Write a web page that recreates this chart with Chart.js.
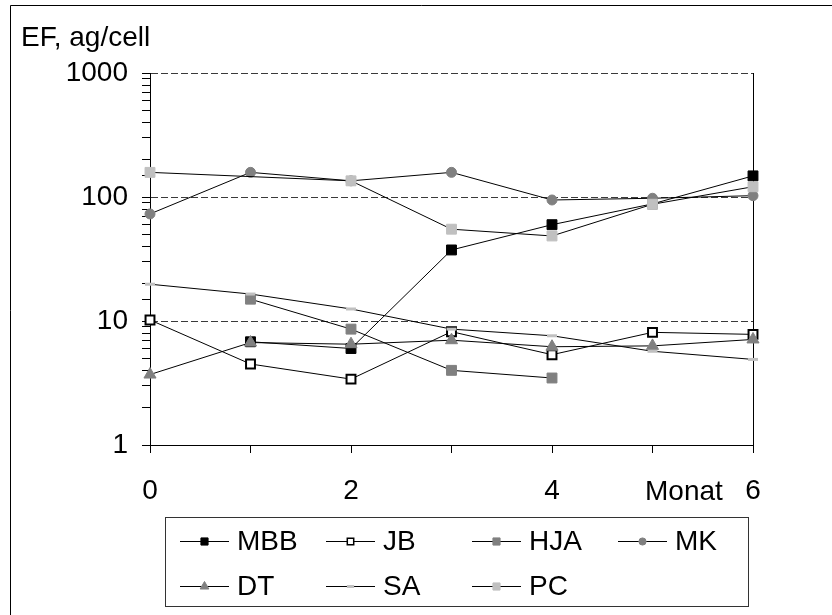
<!DOCTYPE html>
<html>
<head>
<meta charset="utf-8">
<style>
  html, body { margin: 0; padding: 0; background: #fff; }
  #wrap { width: 832px; height: 615px; position: relative; }
</style>
<script src="https://cdn.jsdelivr.net/npm/chart.js@4/dist/chart.umd.min.js"></script>
</head>
<body>
<div id="wrap"><canvas id="c" width="832" height="615"></canvas></div>
<script>
// Months after start of measurement
const months = [0, 1, 2, 3, 4, 5, 6];
const xTickLabels = { 0: '0', 2: '2', 4: '4', 6: '6' };
const yTickLabels = { 1: '1', 10: '10', 100: '100', 1000: '1000' };
const yTitle = 'EF, ag/cell';
const xTitle = 'Monat';

// EF per cell for each donor (null = not measured)
const seriesNames = ['MBB', 'JB', 'HJA', 'MK', 'DT', 'SA', 'PC'];
const mbb = [null, 6.8, 6.0, 37.4, 59.8, 88, 148];
const jb  = [10.2, 4.5, 3.4, 8.2, 5.35, 8.1, 7.8];
const hja = [null, 15.0, 8.6, 4.0, 3.47, null, null];
const mk  = [73, 158, 135, 158, 94.6, 97.7, 102.5];
const dt  = [3.7, 6.7, 6.5, 7.0, 6.2, 6.3, 7.1];
const sa  = [19.8, 16.5, 12.5, 8.6, 7.6, 5.7, 4.9];
const pc  = [158, null, 135, 55, 48.5, 87.4, 121];

const seriesValues = [mbb, jb, hja, mk, dt, sa, pc];

// marker look per series
const markerStyles = [
  { pointStyle: 'rect',     radius: 7,   fill: '#000000', stroke: '#000000', bw: 1 },
  { pointStyle: 'rect',     radius: 6.3, fill: '#ffffff', stroke: '#000000', bw: 2 },
  { pointStyle: 'rect',     radius: 7,   fill: '#808080', stroke: '#808080', bw: 1 },
  { pointStyle: 'circle',   radius: 5,   fill: '#808080', stroke: '#808080', bw: 1 },
  { pointStyle: 'triangle', radius: 7,   fill: '#808080', stroke: '#808080', bw: 1 },
  { pointStyle: 'line',     radius: 5,   fill: '#c0c0c0', stroke: '#c0c0c0', bw: 3 },
  { pointStyle: 'rect',     radius: 7,   fill: '#c0c0c0', stroke: '#c0c0c0', bw: 1 }
];

const FONT = '"Liberation Sans", Arial, Helvetica, sans-serif';
const FONT_SIZE = 28;
Chart.defaults.font.family = FONT;
Chart.defaults.font.size = FONT_SIZE;
Chart.defaults.color = '#000';

const datasets = seriesNames.map((name, i) => {
  const m = markerStyles[i];
  return {
    label: name,
    data: months.map((x, j) => ({ x: x, y: seriesValues[i][j] })),
    borderColor: '#000',
    borderWidth: 1,
    pointStyle: m.pointStyle,
    pointRadius: m.radius,
    pointBackgroundColor: m.fill,
    pointBorderColor: m.stroke,
    pointBorderWidth: m.bw,
    spanGaps: true,
    tension: 0,
    clip: false,
    // later series are painted over earlier ones
    order: seriesNames.length - i
  };
});

// frame, axis titles and the boxed legend
const decorations = {
  id: 'decorations',
  afterDraw(chart) {
    const ctx = chart.ctx;
    ctx.save();
    ctx.strokeStyle = '#000';
    ctx.lineWidth = 1;
    ctx.beginPath();
    ctx.moveTo(10.5, 615);
    ctx.lineTo(10.5, 5.5);
    ctx.lineTo(832, 5.5);
    ctx.stroke();

    ctx.font = FONT_SIZE + 'px ' + FONT;
    ctx.fillStyle = '#000';
    ctx.textAlign = 'left';
    ctx.textBaseline = 'alphabetic';
    ctx.fillText(yTitle, 21, 46);
    ctx.fillText(xTitle, 645, 500);

    // legend box
    ctx.strokeStyle = '#333';
    ctx.strokeRect(165.5, 517.5, 583, 89);
    const colX = [180, 326, 472, 618];
    const rowY = [541, 586];
    ctx.textBaseline = 'middle';
    seriesNames.forEach((name, i) => {
      const x = colX[i % 4];
      const y = rowY[Math.floor(i / 4)];
      ctx.strokeStyle = '#000';
      ctx.lineWidth = 1;
      ctx.beginPath();
      ctx.moveTo(x, y + 0.5);
      ctx.lineTo(x + 49, y + 0.5);
      ctx.stroke();
      const m = markerStyles[i];
      ctx.fillStyle = m.fill;
      ctx.strokeStyle = m.stroke;
      ctx.lineWidth = m.pointStyle === 'line' ? 3 : Math.min(m.bw, 1.5);
      Chart.helpers.drawPoint(ctx, {
        pointStyle: m.pointStyle,
        radius: m.radius * 0.72,
        rotation: 0,
        borderWidth: ctx.lineWidth
      }, x + 24.5, y + 0.5);
      ctx.fillStyle = '#000';
      ctx.fillText(name, x + 57, y + 1);
    });
    ctx.restore();
  }
};

new Chart(document.getElementById('c'), {
  type: 'line',
  data: { datasets: datasets },
  plugins: [decorations],
  options: {
    responsive: false,
    animation: false,
    events: [],
    layout: { padding: { top: 73, right: 79, left: 0, bottom: 0 } },
    plugins: { legend: { display: false }, tooltip: { enabled: false } },
    scales: {
      x: {
        type: 'linear',
        min: 0,
        max: 6,
        afterFit(scale) { scale.height = 170; },
        ticks: {
          stepSize: 1,
          autoSkip: false,
          maxRotation: 0,
          padding: 21,
          callback: (v) => xTickLabels[v] || ''
        },
        grid: {
          drawOnChartArea: true,
          color: (c) => (c.tick && c.tick.value === 6) ? '#000' : 'rgba(0,0,0,0)',
          tickColor: '#000',
          tickLength: 8,
          tickWidth: 1,
          lineWidth: 1
        },
        border: { display: true, color: '#000', width: 1 }
      },
      y: {
        type: 'logarithmic',
        min: 1,
        max: 1000,
        afterFit(scale) { scale.width = 150; },
        ticks: {
          autoSkip: false,
          padding: 14,
          callback: (v) => yTickLabels[v] || ''
        },
        grid: {
          drawOnChartArea: true,
          color: (c) => (c.tick && [10, 100, 1000].includes(c.tick.value)) ? '#3a3a3a' : 'rgba(0,0,0,0)',
          tickBorderDash: [],
          tickColor: '#000',
          tickLength: 8,
          tickWidth: 1,
          lineWidth: 1
        },
        // dash applies to the grid lines; the axis line itself stays solid
        border: { display: true, color: '#000', width: 1, dash: [7, 3] }
      }
    }
  }
});
</script>
</body>
</html>
